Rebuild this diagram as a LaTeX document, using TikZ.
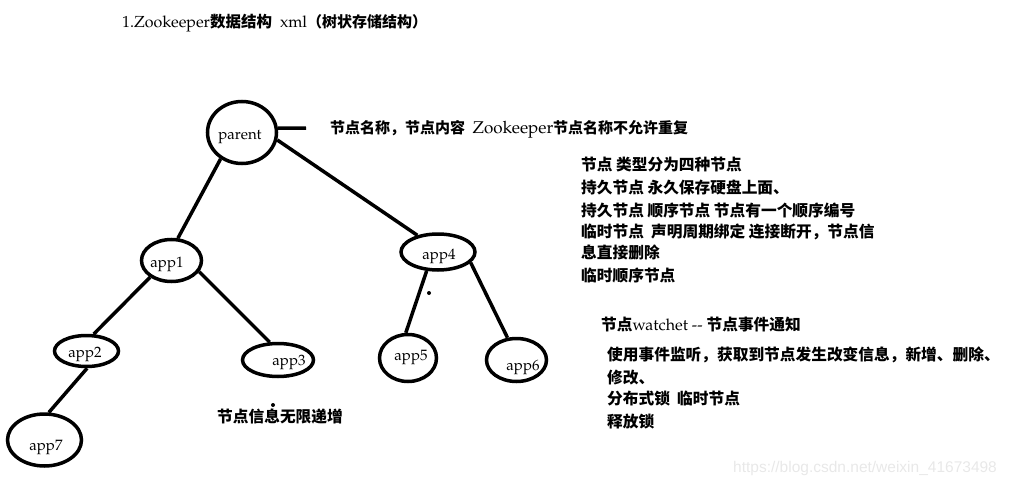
\documentclass[tikz,border=0pt]{standalone}
\usepackage{fontspec}
\setmainfont{TeX Gyre Pagella}
\newfontfamily\cjk{Noto Sans CJK SC}
\newfontfamily\wmfont{Liberation Sans}
\usetikzlibrary{shapes.geometric}
\newcommand\C[1]{{\cjk\bfseries #1}}
\tikzset{
  ell/.style={ellipse, draw, line width=3.5pt, inner sep=0pt},
  link/.style={line width=3.5pt},
  lbl/.style={inner sep=0pt, font=\fontsize{15}{18}\selectfont},
  txt/.style={anchor=west, inner sep=0pt, font=\fontsize{15.7}{18}\selectfont},
}
\begin{document}
\begin{tikzpicture}[x=1pt,y=-1pt]
\useasboundingbox (0,0) rectangle (1013,487);
% title
\node[txt, font=\fontsize{16}{18}\selectfont] (title) at (122,23) {1.Zookeeper\C{\fontsize{15.5}{18}\selectfont 数据结构}~~xml\C{\fontsize{15}{18}\selectfont（树状存储结构）}};
% tree nodes
\node[ell, minimum width=69pt, minimum height=62pt] (parent) at (242,132.5) {};
\node[ell, minimum width=60pt, minimum height=42pt] (app1) at (171.5,260.5) {};
\node[ell, minimum width=74pt, minimum height=36pt] (app4) at (438,252) {};
\node[ell, minimum width=64pt, minimum height=31pt] (app2) at (86.5,351) {};
\node[ell, minimum width=71pt, minimum height=33pt] (app3) at (278,360) {};
\node[ell, minimum width=57pt, minimum height=47pt] (app5) at (408,358) {};
\node[ell, minimum width=60pt, minimum height=43pt] (app6) at (516.5,360) {};
\node[ell, minimum width=74pt, minimum height=52pt] (app7) at (44.5,440) {};
% labels
\node[lbl] (tparent) at (240,137) {parent};
\node[lbl] (tapp1) at (167,264) {app1};
\node[lbl] (tapp4) at (439,256) {app4};
\node[lbl] (tapp2) at (85,354) {app2};
\node[lbl] (tapp3) at (289,362) {app3};
\node[lbl] (tapp5) at (411,357) {app5};
\node[lbl] (tapp6) at (523,367) {app6};
\node[lbl] (tapp7) at (46,447) {app7};
% connectors
\coordinate (stub) at (306,128);
\draw[link] (parent.7) -- (stub);
\draw[link] (parent.231) -- (app1.74);
\draw[link] (parent.-12.6) -- (app4.141);
\draw[link] (app1.-142) -- (app2.67);
\draw[link] (app1.-22) -- (app3.115);
\draw[link] (app2.-88) -- (app7.81);
\draw[link] (app4.-121) -- (app5.95);
\draw[link] (app4.-18) -- (app6.112);
% dots
\fill (429,293) circle (2pt);
\fill (273,405) circle (2pt);
% texts
\node[txt, font=\fontsize{15}{18}\selectfont] (n0) at (330,129) {\C{节点名称，节点内容}~~\fontsize{17}{18}\selectfont Zookeeper\C{\fontsize{15}{18}\selectfont 节点名称不允许重复}};
\node[txt] (b1) at (581,165) {\C{节点 类型分为四种节点}};
\node[txt] (b2) at (581,187) {\C{持久节点 永久保存硬盘上面、}};
\node[txt] (b3) at (581,210) {\C{持久节点 顺序节点 节点有一个顺序编号}};
\node[txt] (b4) at (581,232) {\C{临时节点~~声明周期绑定 连接断开，节点信}};
\node[txt] (b5) at (581,253) {\C{息直接删除}};
\node[txt] (b6) at (581,275) {\C{临时顺序节点}};
\node[txt] (w1) at (601,325) {\C{节点}\fontsize{16}{18}\selectfont watchet -{}- \C{\fontsize{15.7}{18}\selectfont 节点事件通知}};
\node[txt] (w2) at (607,355) {\C{使用事件监听，获取到节点发生改变信息，新增、删除、}};
\node[txt] (w3) at (607,378) {\C{修改、}};
\node[txt] (w4) at (607,399) {\C{分布式锁~~临时节点}};
\node[txt] (w5) at (607,422) {\C{释放锁}};
\node[txt] (inc) at (217,417) {\C{节点信息无限递增}};
% watermark
\node[txt, text=black!9, font=\wmfont\fontsize{15.5}{16}\selectfont] (wm) at (733,468) {https://blog.csdn.net/weixin\_41673498};
\end{tikzpicture}
\end{document}
